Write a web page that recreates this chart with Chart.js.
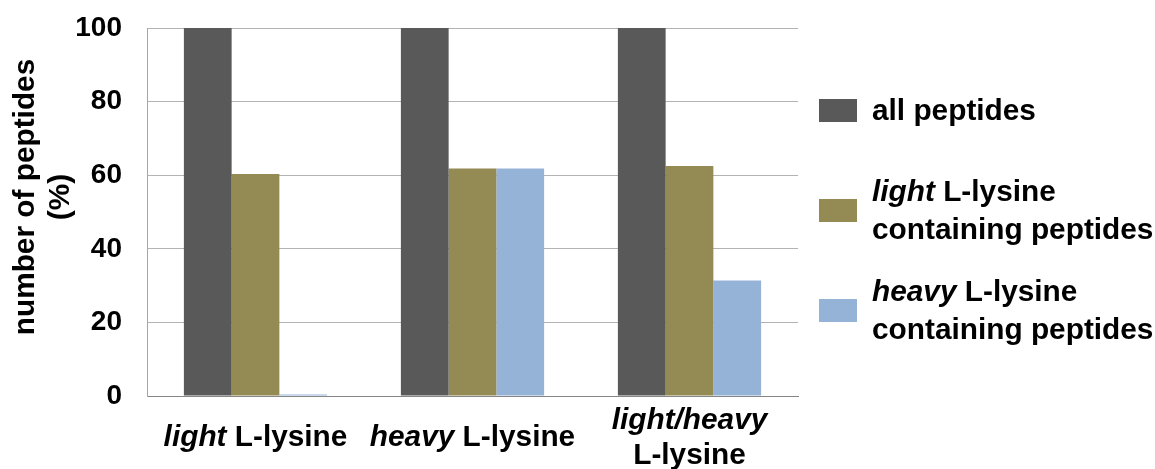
<!DOCTYPE html>
<html>
<head>
<meta charset="utf-8">
<script src="https://cdn.jsdelivr.net/npm/chart.js@4.4.1/dist/chart.umd.min.js"></script>
<style>
  html, body { margin: 0; padding: 0; background: #fff; }
  canvas { display: block; }
</style>
</head>
<body>
<canvas id="chart" width="1155" height="469"></canvas>
<script>
// --- DATA ---
const categories = ['light L-lysine', 'heavy L-lysine', 'light/heavy L-lysine'];
const categoryLines = [['light L-lysine'], ['heavy L-lysine'], ['light/heavy', 'L-lysine']];
const italicWords = ['light', 'heavy', 'light/heavy'];

const seriesNames = ['all peptides', 'light L-lysine containing peptides', 'heavy L-lysine containing peptides'];
const seriesLines = [['all peptides'], ['light L-lysine', 'containing peptides'], ['heavy L-lysine', 'containing peptides']];
const allPeptides = [100, 100, 100];
const lightPeptides = [60.3, 61.8, 62.5];
const heavyPeptides = [0.4, 61.8, 31.4];
const seriesColors = ['#595959', '#948A54', '#95B3D7'];

const yTicks = [0, 20, 40, 60, 80, 100];
const yTitle = ['number of peptides', '(%)'];

// --- TEXT HELPERS ---
const FAMILY = '"Liberation Sans", Arial, sans-serif';
const TICK_SIZE = 28;
const SIZE = 29.8;

function fontFor(word) {
    return (italicWords.includes(word) ? 'italic ' : '') + 'bold ' + SIZE + 'px ' + FAMILY;
}

// draws one line where some words are italic
function drawRichLine(ctx, line, x, y, align) {
    const words = line.split(' ');
    ctx.font = 'bold ' + SIZE + 'px ' + FAMILY;
    const space = ctx.measureText(' ').width;
    const widths = words.map(w => { ctx.font = fontFor(w); return ctx.measureText(w).width; });
    const total = widths.reduce((a, b) => a + b, 0) + space * (words.length - 1);
    let cx = align === 'center' ? x - total / 2 : x;
    ctx.textBaseline = 'middle';
    ctx.textAlign = 'left';
    words.forEach((w, i) => {
        ctx.font = fontFor(w);
        ctx.fillText(w, cx, y);
        cx += widths[i] + space;
    });
}

// --- CUSTOM LABELS / LEGEND ---
const extrasPlugin = {
    id: 'extras',
    afterDraw(chart) {
        const ctx = chart.ctx;
        const xScale = chart.scales.x;
        ctx.save();
        ctx.fillStyle = '#000';

        // x axis labels
        categoryLines.forEach((lines, i) => {
            const cx = xScale.getPixelForValue(i);
            lines.forEach((line, j) => {
                const cy = 438 + (j - (lines.length - 1) / 2) * 35;
                drawRichLine(ctx, line, cx, cy, 'center');
            });
        });

        // legend
        chart.data.datasets.forEach((ds, i) => {
            const cy = 110.5 + i * 100;
            ctx.fillStyle = ds.backgroundColor;
            ctx.fillRect(819, cy - 11.5, 38, 23);
            ctx.fillStyle = '#000';
            const lines = seriesLines[i];
            lines.forEach((line, j) => {
                drawRichLine(ctx, line, 872, cy + 1 + (j - (lines.length - 1) / 2) * 38, 'left');
            });
        });

        // y axis title
        ctx.translate(0, 197);
        ctx.rotate(-Math.PI / 2);
        ctx.textAlign = 'center';
        ctx.textBaseline = 'middle';
        ctx.font = 'bold ' + SIZE + 'px ' + FAMILY;
        yTitle.forEach((t, j) => ctx.fillText(t, 0, 26 + j * 35));
        ctx.restore();
    }
};

// --- CHART ---
const ctx = document.getElementById('chart').getContext('2d');
new Chart(ctx, {
    type: 'bar',
    data: {
        labels: categories,
        datasets: [
            { label: seriesNames[0], data: allPeptides, backgroundColor: seriesColors[0] },
            { label: seriesNames[1], data: lightPeptides, backgroundColor: seriesColors[1] },
            { label: seriesNames[2], data: heavyPeptides, backgroundColor: seriesColors[2] }
        ]
    },
    options: {
        responsive: false,
        animation: false,
        devicePixelRatio: 1,
        layout: { padding: { left: 0, top: 28, right: 357, bottom: 73 } },
        datasets: { bar: { categoryPercentage: 0.66, barPercentage: 1.0 } },
        plugins: { legend: { display: false }, tooltip: { enabled: false } },
        scales: {
            x: {
                grid: { display: false },
                border: { display: true, color: '#868686', width: 1 },
                ticks: { display: false },
                afterFit: s => { s.height = 0; }
            },
            y: {
                min: 0,
                max: 100,
                afterBuildTicks: s => { s.ticks = yTicks.map(v => ({ value: v })); },
                grid: { color: '#B3B3B3', drawTicks: false },
                border: { display: true, color: '#A6A6A6', width: 1 },
                ticks: {
                    padding: 25,
                    color: '#000',
                    font: { family: FAMILY, size: TICK_SIZE, weight: 'bold' }
                },
                afterFit: s => {
                    s.width = 147;
                    // tick padding would otherwise push the plot top down
                    s.paddingTop = 0;
                    s.paddingBottom = 0;
                }
            }
        }
    },
    plugins: [extrasPlugin]
});
</script>
</body>
</html>
